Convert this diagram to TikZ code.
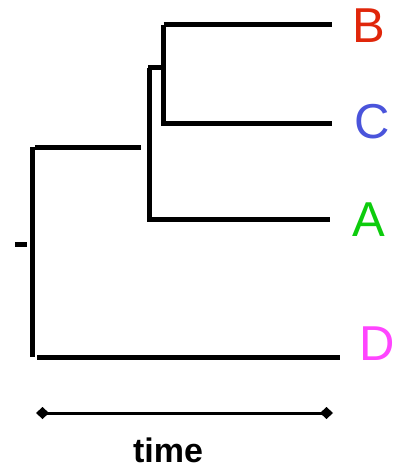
\documentclass[tikz,border=0pt]{standalone}
\usepackage{fontspec}
\setmainfont{Liberation Sans}
\usetikzlibrary{arrows.meta}
\definecolor{colb}{rgb}{0.88,0.15,0.04}
\definecolor{colc}{rgb}{0.29,0.33,0.86}
\definecolor{cola}{rgb}{0.05,0.8,0.05}
\definecolor{cold}{rgb}{1,0.27,1}

\begin{document}
\begin{tikzpicture}[x=1pt,y=-1pt,branch/.style={line width=5pt},taxon/.style={font=\fontsize{49}{49}\selectfont,inner sep=0pt}]
    \useasboundingbox (0,0) rectangle (394,468);

    % leaf labels
    \node[taxon,text=colb] (B) at (369,26) {B};
    \node[taxon,text=colc] (C) at (372,122) {C};
    \node[taxon,text=cola] (A) at (369,220) {A};
    \node[taxon,text=cold] (D) at (377,344) {D};

    % tree
    \path (163.5,25) coordinate(bc) (332,25) coordinate(b)
          (163.5,123.5) coordinate(cc) (332,123.5) coordinate(c)
          (148,68) coordinate(s) (149,68) coordinate(ab)
          (149,219) coordinate(ac) (330,219) coordinate(a)
          (35,147) coordinate(r) (141,147) coordinate(rr)
          (32,147) coordinate(rt) (32,357) coordinate(rd)
          (37,357) coordinate(dc) (340,357) coordinate(d)
          (15,244) coordinate(st) (27,244) coordinate(se);
    \draw[branch] (bc) -- (b);
    \draw[branch] (bc) -- (cc) -- (c);
    \draw[branch] (s) -- (bc |- s);
    \draw[branch] (ab) -- (ac) -- (a);
    \draw[branch] (r) -- (rr);
    \draw[branch] (rt) -- (rd);
    \draw[branch] (dc) -- (d);
    \draw[branch] (st) -- (se);

    % time axis
    \coordinate (t0) at (36,413);
    \coordinate (t1) at (333,413);
    \draw[line width=3pt,{Diamond[length=13pt,width=12pt]}-{Diamond[length=13pt,width=12pt]}] (t0) -- (t1);
    \node[font=\bfseries\fontsize{34}{34}\selectfont] (time) at (168,450) {time};
\end{tikzpicture}
\end{document}
